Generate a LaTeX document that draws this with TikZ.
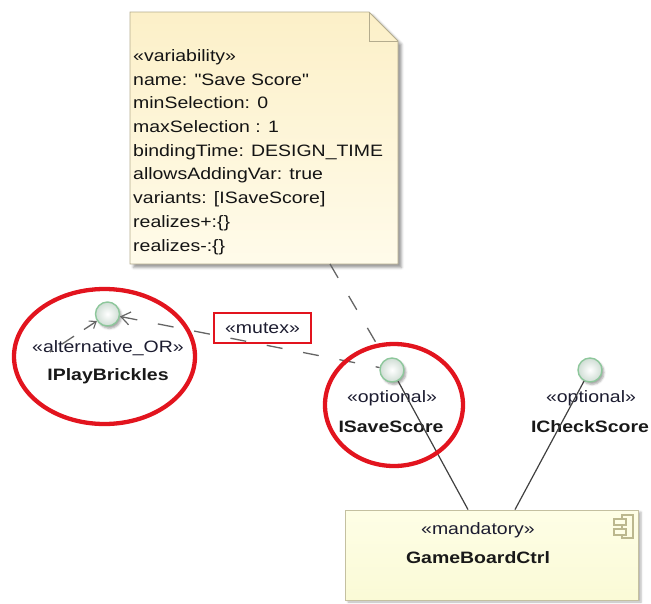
\documentclass[tikz,border=0pt]{standalone}
\usepackage{fontspec}
% plain family: no TeX ligature mapping, so " stays a straight quote
\newfontfamily\diagfont{Liberation Sans}[FakeStretch=1.18]
\usetikzlibrary{arrows.meta,shadows.blur,shapes.geometric}

\definecolor{notetop}{HTML}{FCF0C8}
\definecolor{notebot}{HTML}{FFFBEA}
\definecolor{noteedge}{HTML}{B4AC8E}
\definecolor{comptop}{HTML}{FEFEE6}
\definecolor{compbot}{HTML}{FAFAD6}
\definecolor{compedge}{HTML}{C4C0A0}
\definecolor{iconedge}{HTML}{BCB88E}
\definecolor{ifaceedge}{HTML}{8DC79B}
\definecolor{ifacefill}{HTML}{CFDDD4}
\definecolor{markred}{HTML}{E2141E}
\definecolor{linkgray}{HTML}{656565}
\definecolor{stereoink}{HTML}{1C1C30}

\tikzset{
  basefont/.style={font=\diagfont\fontsize{16.5}{23.7}\selectfont},
  stereo/.style={basefont, inner sep=0pt, anchor=base, text=stereoink},
  ifname/.style={font=\diagfont\fontsize{16.5}{20}\selectfont\bfseries, inner sep=0pt, anchor=base, text=black!90},
  iface/.style={circle, minimum size=24pt, inner sep=0pt, draw=ifaceedge,
    line width=1.4pt, inner color=white, outer color=ifacefill,
    blur shadow={shadow xshift=2pt, shadow yshift=-2.5pt, shadow blur radius=2pt, shadow opacity=35}},
  ring/.style={ellipse, draw=markred, line width=4.3pt, inner sep=0pt},
  dashlink/.style={draw=linkgray, line width=1.3pt, dash pattern=on 16pt off 21pt},
  solidlink/.style={draw=black!75, line width=1.2pt},
}

\begin{document}
\begin{tikzpicture}[x=1pt, y=-1pt]
\useasboundingbox (0,0) rectangle (651,603);

% variability note with folded corner
\path[blur shadow={shadow xshift=3.5pt, shadow yshift=-3.5pt, shadow blur radius=2.5pt, shadow opacity=40},
      top color=notetop, bottom color=notebot, draw=noteedge, line width=0.9pt]
  (130,12) -- (369,12) -- (398,41) -- (398,264) -- (130,264) -- cycle;
\draw[noteedge, line width=0.9pt] (369,12) -- (369,41) -- (398,41);
% the node's base anchor sits on its last line
\node[basefont, anchor=base west, align=left, inner sep=0pt, text=black!92] (notetext) at (133,251)
  {«variability»\\
   name: "Save Score"\\
   minSelection: 0\\
   maxSelection : 1\\
   bindingTime: DESIGN\_TIME\\
   allowsAddingVar: true\\
   variants: [ISaveScore]\\
   realizes+:\{\}\\
   realizes-:\{\}};
\coordinate (noteport) at (330,264);

% component
\node[rectangle, minimum width=293pt, minimum height=90pt, inner sep=0pt,
      draw=compedge, line width=0.9pt, top color=comptop, bottom color=compbot,
      blur shadow={shadow xshift=3pt, shadow yshift=-2pt, shadow blur radius=2pt, shadow opacity=30}]
  (ctrl) at (491.5,555) {};
\node[stereo] (ctrlst) at (478,534) {«mandatory»};
\node[ifname] (ctrlname) at (478,563) {GameBoardCtrl};
% component glyph
\draw[iconedge, line width=1.3pt] (622,515) rectangle (633,538);
\draw[iconedge, line width=1.3pt, fill=comptop] (614,519) rectangle (626,525);
\draw[iconedge, line width=1.3pt, fill=comptop] (614,529) rectangle (626,535);

% provided interfaces
\node[iface] (play) at (107.5,314) {};
\node[iface] (save) at (392,370) {};
\node[iface] (check) at (590,370) {};

\node[stereo] (playst) at (108,352) {«alternative\_OR»};
\node[ifname] (playname) at (108,380) {IPlayBrickles};
\node[stereo] (savest) at (392,402) {«optional»};
\node[ifname] (savename) at (391,432) {ISaveScore};
\node[stereo] (checkst) at (591,402) {«optional»};
\node[ifname] (checkname) at (590,432) {ICheckScore};

% realizations into the component
\draw[solidlink] (save) -- ([xshift=-23.5pt]ctrl.north);
\draw[solidlink] (check) -- ([xshift=23.5pt]ctrl.north);

% note anchor and mutex dependency
\draw[dashlink] (noteport) -- (save);
\draw[dashlink, {Straight Barb[length=9pt, width=13pt, line width=1.2pt]}-] (play) -- (save);
\coordinate (stubend) at (50,352);
\draw[dashlink, dash pattern=on 14pt off 12pt, {Straight Barb[length=6pt, width=9pt, line width=1.1pt]}-] (play) -- (stubend);

\node[draw=markred, line width=1.3pt, minimum width=97pt, minimum height=30pt, inner sep=0pt,
      basefont, text=stereoink] (mutexlbl) at (262.5,328) {«mutex»};

% highlight rings
\node[ring, minimum width=181pt, minimum height=135pt] (ringplay) at (104.5,356.5) {};
\node[ring, minimum width=138pt, minimum height=122pt] (ringsave) at (394,405) {};
\end{tikzpicture}
\end{document}
